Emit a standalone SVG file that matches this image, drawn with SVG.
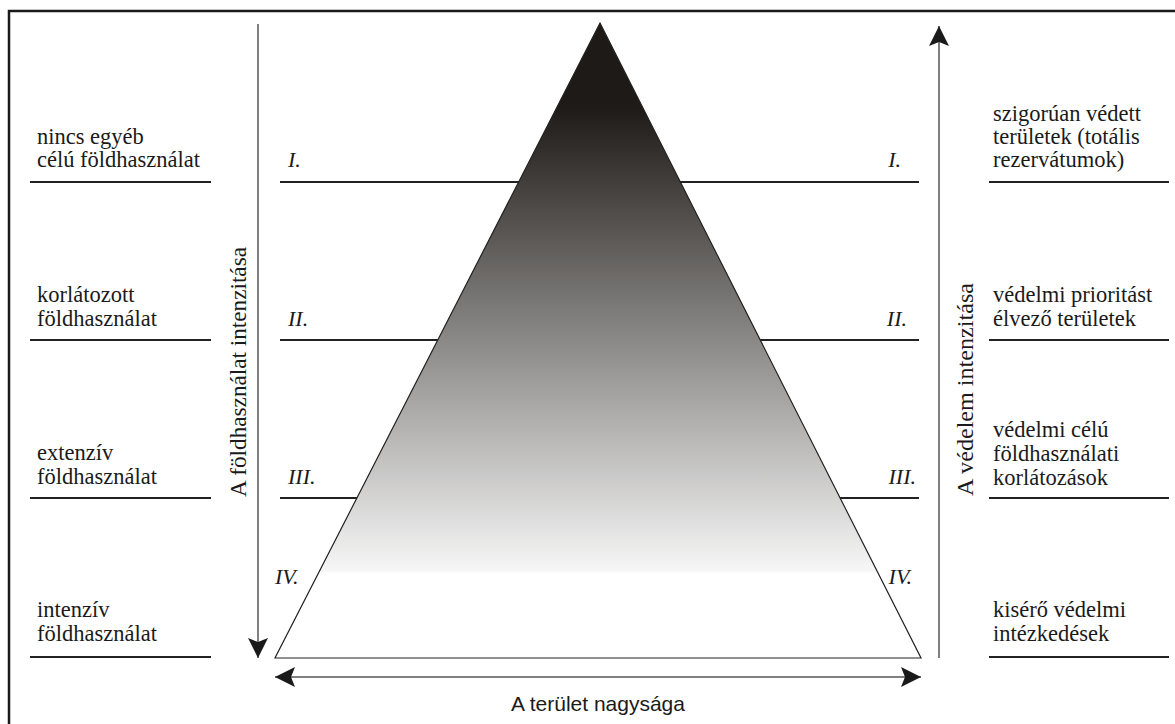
<svg xmlns="http://www.w3.org/2000/svg" width="1175" height="724" viewBox="0 0 1175 724">
<style>
.t{font-family:"Liberation Serif","Times New Roman",serif;font-size:22.5px;fill:#1a1a1a}
.r{font-family:"Liberation Serif","Times New Roman",serif;font-size:22px;font-style:italic;fill:#1a1a1a}
.s{font-family:"Liberation Sans",Arial,sans-serif;font-size:21px;fill:#1a1a1a}
.sep{stroke:#222;stroke-width:2;fill:none}
.ax{stroke:#808080;stroke-width:2;fill:none}
</style>
<defs>
<linearGradient id="g" gradientUnits="userSpaceOnUse" x1="0" y1="23" x2="0" y2="658">
<stop offset="0" stop-color="#1e1a17"/>
<stop offset="0.132" stop-color="#1e1a17"/>
<stop offset="0.864" stop-color="#f7f7f7"/>
<stop offset="0.866" stop-color="#ffffff"/>
<stop offset="1" stop-color="#ffffff"/>
</linearGradient>
<marker id="ah" viewBox="0 0 20 20" refX="20" refY="10" markerWidth="20" markerHeight="20" markerUnits="userSpaceOnUse" orient="auto-start-reverse">
<path d="M0,0 L20,10 L0,20 L4,10 Z" fill="#1a1a1a"/>
</marker>
</defs>
<rect width="1175" height="724" fill="#fff"/>
<path d="M9,724 V11 H1175" stroke="#1a1a1a" stroke-width="2.5" fill="none"/>

<g id="levels">
<line class="sep" x1="30" y1="182" x2="211" y2="182"/>
<line class="sep" x1="30" y1="340" x2="211" y2="340"/>
<line class="sep" x1="30" y1="498" x2="211" y2="498"/>
<line class="sep" x1="30" y1="657" x2="211" y2="657"/>
<line class="sep" x1="989" y1="182" x2="1169" y2="182"/>
<line class="sep" x1="989" y1="340" x2="1169" y2="340"/>
<line class="sep" x1="989" y1="498" x2="1169" y2="498"/>
<line class="sep" x1="989" y1="657" x2="1169" y2="657"/>
<line class="sep" x1="280" y1="182" x2="919" y2="182"/>
<line class="sep" x1="280" y1="340" x2="919" y2="340"/>
<line class="sep" x1="280" y1="498" x2="919" y2="498"/>
</g>

<g id="pyramid">
<polygon points="600,23 921,658 275,658" fill="url(#g)" stroke="#222" stroke-width="1.2"/>
</g>

<g id="connectors">
<line class="ax" x1="258" y1="24" x2="258" y2="658" marker-end="url(#ah)"/>
<line class="ax" x1="939" y1="658" x2="939" y2="26" marker-end="url(#ah)"/>
<line class="ax" x1="275" y1="677" x2="921" y2="677" marker-start="url(#ah)" marker-end="url(#ah)"/>
</g>

<g id="left-labels">
<text class="t" x="37" y="144">nincs egyéb</text>
<text class="t" x="37" y="167">célú földhasználat</text>
<text class="t" x="37" y="302">korlátozott</text>
<text class="t" x="37" y="326">földhasználat</text>
<text class="t" x="37" y="460">extenzív</text>
<text class="t" x="37" y="484">földhasználat</text>
<text class="t" x="37" y="617">intenzív</text>
<text class="t" x="37" y="641">földhasználat</text>
</g>

<g id="right-labels">
<text class="t" x="993" y="121">szigorúan védett</text>
<text class="t" x="993" y="144">területek (totális</text>
<text class="t" x="993" y="167">rezervátumok)</text>
<text class="t" x="993" y="302">védelmi prioritást</text>
<text class="t" x="993" y="326">élvező területek</text>
<text class="t" x="993" y="437">védelmi célú</text>
<text class="t" x="993" y="461">földhasználati</text>
<text class="t" x="993" y="485">korlátozások</text>
<text class="t" x="993" y="617">kisérő védelmi</text>
<text class="t" x="993" y="641">intézkedések</text>
</g>

<g id="numerals">
<text class="r" x="288" y="167">I.</text>
<text class="r" x="288" y="326">II.</text>
<text class="r" x="288" y="484">III.</text>
<text class="r" x="275" y="584">IV.</text>
<text class="r" x="901" y="167" text-anchor="end">I.</text>
<text class="r" x="907" y="326" text-anchor="end">II.</text>
<text class="r" x="916" y="484" text-anchor="end">III.</text>
<text class="r" x="912" y="584" text-anchor="end">IV.</text>
</g>

<g id="axis-labels">
<text class="t" transform="translate(246,497) rotate(-90)" textLength="250" lengthAdjust="spacingAndGlyphs">A földhasználat intenzitása</text>
<text class="t" transform="translate(973,496) rotate(-90)" textLength="213" lengthAdjust="spacingAndGlyphs">A védelem intenzitása</text>
<text class="s" x="598" y="711" text-anchor="middle">A terület nagysága</text>
</g>
</svg>
